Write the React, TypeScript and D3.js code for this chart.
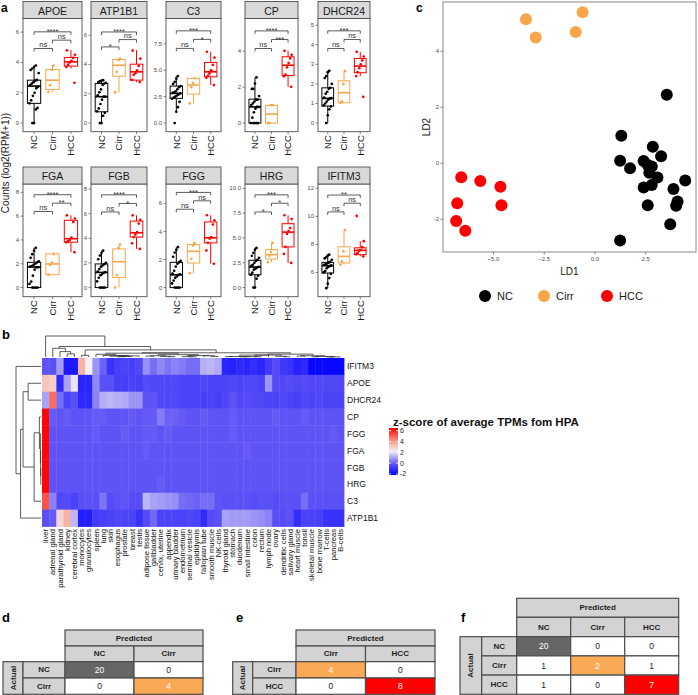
import React from 'react';
import * as d3 from 'd3';

const FONT = '"Liberation Sans", Arial, Helvetica, sans-serif';

// ---------------- Panel a data ----------------
const GENES = ['APOE', 'ATP1B1', 'C3', 'CP', 'DHCR24', 'FGA', 'FGB', 'FGG', 'HRG', 'IFITM3'];
const GROUPS = ['NC', 'Cirr', 'HCC'];
const GROUP_COLORS = ['#000000', '#F9A54A', '#FF0000'];

const Y_TICKS = [[0, 2, 4, 6], [0, 2, 4, 6], [0, 2.5, 5, 7.5], [0, 2, 4], [0, 1, 2, 3, 4, 5], [0, 2, 4, 6, 8], [0, 2, 4, 6, 8], [0, 2, 4, 6], [0, 2.5, 5, 7.5, 10], [6, 8, 10, 12]];
const Y_DOMAINS = [[-0.57, 6.9], [-0.59, 7.14], [-0.82, 9.9], [-0.48, 5.82], [-0.44, 5.34], [-0.77, 8.7], [-0.74, 8.41], [-0.65, 7.39], [-0.92, 10.44], [4.27, 12.31]];

// [lower whisker, q1, median, q3, upper whisker]
const NC_BOX = [[0, 1.3, 2.44, 2.83, 3.82], [0, 0.77, 1.8, 2.7, 2.93], [1.07, 2.34, 2.81, 3.5, 4.45], [0, 0, 0.9, 1.33, 2.54], [0, 0.87, 1.26, 1.8, 2.67], [0, 0, 1.73, 2.12, 3.34], [0, 0, 1.23, 1.92, 3.0], [0, 0, 0.91, 1.8, 2.88], [0, 1.29, 2.07, 2.75, 4.0], [4.88, 5.96, 6.48, 6.72, 7.27]];
const CIRR_BOX = [[2.06, 2.22, 2.83, 3.54, 3.8], [2.09, 3.2, 3.95, 4.34, 4.4], [1.86, 2.74, 3.6, 4.23, 4.23], [0, 0, 0.5, 0.98, 1.0], [1.04, 1.04, 1.55, 2.16, 2.65], [1.08, 1.08, 1.98, 2.83, 2.83], [0, 0.82, 2.1, 3.14, 3.5], [1.03, 1.75, 2.59, 3.07, 3.2], [2.54, 2.88, 3.32, 3.83, 4.5], [6.55, 6.68, 7.15, 7.83, 9.02]];
const HCC_BOX = [[3.6, 3.76, 4.04, 4.33, 4.81], [2.8, 2.93, 3.5, 4.02, 4.98], [3.6, 4.38, 4.85, 5.74, 6.75], [2.02, 2.65, 3.22, 3.69, 4.02], [2.4, 2.57, 2.91, 3.3, 3.64], [2.97, 3.81, 4.1, 5.65, 6.07], [3.14, 4.1, 4.45, 5.4, 5.87], [1.7, 3.19, 3.55, 4.68, 5.16], [2.48, 4.1, 5.59, 6.44, 7.29], [7.15, 7.27, 7.58, 7.76, 8.23]];

const NC_PTS = [
  [0, 0, 0.9, 1.0, 1.3, 1.5, 1.8, 2.0, 2.3, 2.4, 2.5, 2.6, 2.7, 2.8, 2.85, 3.3, 3.5, 3.6, 3.7, 3.8],
  [0, 0, 0.5, 0.7, 0.8, 1.0, 1.3, 1.6, 1.8, 1.8, 1.9, 2.1, 2.3, 2.6, 2.7, 2.75, 2.8, 2.85, 2.9, 2.93],
  [0, 1.07, 1.5, 2.0, 2.3, 2.4, 2.5, 2.6, 2.7, 2.8, 2.85, 2.9, 3.0, 3.2, 3.4, 3.5, 3.7, 3.9, 4.2, 4.45],
  [0, 0, 0, 0, 0, 0.3, 0.6, 0.8, 0.9, 0.9, 1.0, 1.1, 1.2, 1.3, 1.3, 1.5, 1.9, 1.9, 2.2, 2.54],
  [0, 0.4, 0.7, 0.85, 0.9, 1.0, 1.1, 1.2, 1.25, 1.27, 1.3, 1.5, 1.6, 1.75, 1.8, 2.0, 2.3, 2.4, 2.6, 2.67],
  [0, 0, 0, 0, 0.3, 0.5, 1.0, 1.5, 1.7, 1.7, 1.75, 1.8, 1.9, 2.0, 2.1, 2.2, 2.5, 2.8, 3.1, 3.34],
  [0, 0, 0, 0, 0.5, 0.8, 1.0, 1.1, 1.2, 1.25, 1.3, 1.5, 1.7, 1.8, 1.9, 2.0, 2.3, 2.6, 2.8, 3.0],
  [0, 0, 0, 0, 0.3, 0.5, 0.7, 0.8, 0.9, 0.95, 1.0, 1.2, 1.5, 1.7, 1.8, 1.9, 2.2, 2.5, 2.7, 2.88],
  [0, 0, 0.9, 1.2, 1.3, 1.5, 1.8, 1.9, 2.0, 2.1, 2.2, 2.3, 2.5, 2.7, 2.8, 3.0, 3.2, 3.5, 3.8, 4.0],
  [4.88, 5.2, 5.6, 5.9, 6.0, 6.1, 6.3, 6.4, 6.45, 6.5, 6.55, 6.6, 6.65, 6.7, 6.75, 6.9, 7.0, 7.1, 7.2, 7.27],
];
const CIRR_PTS = [
  [2.06, 2.5, 3.5, 3.8], [2.1, 3.5, 4.3, 4.4], [1.86, 3.4, 3.8, 4.23], [0, 0, 1.0, 1.0], [1.04, 1.1, 2.0, 2.65],
  [1.08, 1.9, 2.1, 2.83], [0, 1.0, 3.2, 3.5], [1.03, 2.05, 3.0, 3.2], [2.54, 3.2, 3.6, 4.5], [6.55, 6.8, 7.5, 9.02],
];
const HCC_PTS = [
  [2.66, 3.7, 3.85, 4.0, 4.1, 4.3, 4.5, 4.8], [2.8, 2.95, 3.3, 3.4, 3.6, 3.9, 4.4, 4.95], [3.6, 4.3, 4.5, 4.7, 5.0, 5.5, 6.2, 6.75],
  [2.02, 2.6, 2.7, 3.1, 3.35, 3.6, 3.8, 4.02], [1.34, 2.4, 2.6, 2.8, 3.0, 3.2, 3.4, 3.64], [2.97, 3.8, 3.9, 4.0, 4.2, 5.5, 5.8, 6.07],
  [3.14, 3.6, 4.1, 4.3, 4.5, 5.2, 5.5, 5.87], [1.7, 2.65, 3.2, 3.5, 3.6, 4.5, 4.8, 5.16], [2.48, 3.4, 4.1, 5.4, 5.7, 6.0, 6.9, 7.29],
  [7.15, 7.3, 7.4, 7.55, 7.6, 7.8, 8.23, 10.03],
];

// significance brackets: [NC-Cirr, Cirr-HCC, NC-HCC]
const BRACKET_Y = [[4.92, 5.47, 6.02], [5.2, 5.7, 6.22], [7.07, 7.92, 8.73], [4.15, 4.65, 5.13], [3.81, 4.27, 4.71], [6.39, 7.09, 7.8], [6.14, 6.83, 7.53], [5.59, 6.19, 6.79], [7.62, 8.5, 9.35], [10.32, 10.94, 11.52]];
const BRACKET_LABELS = [['ns', 'ns', '****'], ['*', 'ns', '****'], ['ns', '*', '***'], ['ns', '***', '****'], ['ns', 'ns', '***'], ['ns', '**', '****'], ['ns', '*', '****'], ['ns', 'ns', '***'], ['*', '*', '***'], ['ns', 'ns', '**']];
const BRACKET_PAIRS = [[0, 1], [1, 2], [0, 2]];

// ---------------- Panel b data ----------------
const HM_ROWS = ['IFITM3', 'APOE', 'DHCR24', 'CP', 'FGG', 'FGA', 'FGB', 'HRG', 'C3', 'ATP1B1'];
const TISSUES = ['liver', 'adrenal gland', 'parathyroid gland', 'kidney', 'cerebral cortex', 'monocytes', 'granulocytes', 'spleen', 'lung', 'skin', 'esophagus', 'prostate', 'breast', 'testis', 'adipose tissue', 'gallbladder', 'cervix, uterine', 'appendix', 'urinary bladder', 'endometrium', 'seminal vesicle', 'epididymis', 'fallopian tube', 'smooth muscle', 'NK-cells', 'thyroid gland', 'stomach', 'duodenum', 'small intestine', 'colon', 'rectum', 'lymph node', 'ovary', 'dendritic cells', 'salivary gland', 'heart muscle', 'tonsil', 'skeletal muscle', 'bone marrow', 'T-cells', 'pancreas', 'B-cells'];
const HM_IFITM3 = [-0.2, -0.3, 0.9, -1.6, -1.6, 3.6, 2.2, 0.8, 0.0, -1.0, -0.7, -0.6, -0.7, -0.5, 0.7, 0.2, 0.6, 0.3, 0.5, 0.4, 0.2, 0.2, 1.2, 1.3, 1.1, -1.3, -1.4, -1.2, -1.3, -1.1, -1.3, -0.8, -0.4, -0.9, -1.0, -1.4, -1.2, -2.0, -2.0, -2.0, -2.0, -2.0];
const HM_APOE = [3.2, 3.0, -1.2, 1.0, 2.0, -1.3, -1.3, 0.6, -0.3, -0.3, -0.7, -0.7, -0.6, -0.7, -0.4, -0.5, -0.5, -0.5, -0.5, -0.6, -0.6, -0.6, -0.5, -0.6, -0.6, -0.6, -0.5, -0.6, -0.5, -0.5, -0.6, 0.8, -0.4, -0.5, -0.4, -0.5, -0.4, -0.5, -0.5, -0.5, -0.5, -0.5];
const HM_DHCR24 = [1.0, 4.8, 0.2, -0.6, -0.3, -1.2, -1.2, 0.5, 1.2, 1.3, 1.2, 1.1, 0.8, 0.8, -0.2, -0.2, -0.5, -0.5, -0.5, -0.6, -0.6, -0.6, -0.7, -0.6, -0.7, -0.5, -0.3, -0.5, -0.4, -0.5, -0.5, -0.6, -0.6, -0.5, -0.6, -0.7, -0.5, -0.6, -0.5, -0.6, -0.6, -0.6];
const HM_CP = [6.4, -0.1, -0.2, -0.1, -0.2, -0.2, -0.2, -0.1, -0.1, -0.2, -0.2, -0.2, -0.1, -0.2, -0.1, -0.1, 0.4, 0.0, 0.0, -0.1, -0.2, -0.2, -0.1, -0.2, -0.2, -0.2, -0.1, -0.2, -0.2, -0.2, -0.2, -0.2, -0.1, -0.2, -0.2, -0.2, -0.1, -0.2, -0.2, -0.2, -0.2, -0.2];
const HM_FGG = [6.4, -0.2, -0.2, -0.2, -0.2, -0.2, -0.2, -0.1, -0.2, -0.2, -0.2, -0.1, -0.2, -0.2, -0.1, -0.1, -0.2, -0.1, -0.2, -0.2, -0.2, -0.2, -0.2, -0.2, -0.2, -0.2, -0.1, -0.2, -0.2, -0.2, -0.2, -0.2, -0.2, -0.2, -0.2, -0.2, -0.2, -0.2, -0.2, -0.2, -0.1, -0.2];
const HM_FGA = [6.4, -0.2, -0.2, -0.2, -0.2, -0.2, -0.2, -0.2, -0.2, -0.2, -0.2, -0.2, -0.2, -0.2, -0.1, -0.2, -0.2, -0.2, -0.2, -0.2, -0.2, -0.2, -0.2, -0.2, -0.2, -0.2, -0.2, -0.2, -0.1, -0.2, -0.2, -0.2, -0.2, -0.2, -0.2, -0.2, -0.2, -0.2, -0.2, -0.2, -0.2, -0.2];
const HM_FGB = [6.4, -0.2, -0.2, -0.2, -0.2, -0.2, -0.2, -0.2, -0.2, -0.2, -0.2, -0.2, -0.2, -0.2, -0.2, -0.2, -0.2, -0.2, -0.2, -0.2, -0.2, -0.2, -0.2, -0.2, -0.2, -0.2, -0.2, -0.2, -0.2, -0.2, -0.2, -0.2, -0.2, -0.2, -0.2, -0.2, -0.2, -0.2, -0.2, -0.2, -0.2, -0.2];
const HM_HRG = [6.4, -0.2, -0.2, -0.2, -0.2, -0.2, -0.2, -0.2, -0.2, -0.2, -0.2, -0.2, -0.2, -0.2, -0.2, -0.2, -0.1, -0.2, -0.2, -0.2, -0.2, -0.2, -0.2, -0.2, -0.2, -0.2, -0.2, -0.2, -0.2, -0.2, -0.2, -0.2, -0.2, -0.2, -0.2, -0.2, -0.2, -0.2, -0.2, -0.2, -0.2, -0.2];
const HM_C3 = [5.2, 0.5, -0.5, -0.4, -0.6, -0.3, -0.3, -0.3, 0.3, -0.4, -0.3, -0.2, -0.4, -0.4, 1.3, 1.0, 0.9, 0.8, 0.7, 0.2, 0.1, 0.0, 0.2, 0.2, -0.2, -0.3, -0.3, -0.3, -0.3, -0.4, -0.3, -0.3, -0.4, -0.3, -0.3, -0.3, 0.2, -0.3, -0.3, -0.3, -0.3, -0.3];
const HM_ATP1B1 = [-0.3, -0.1, 2.8, 3.6, 1.3, -1.5, -1.5, -0.8, -0.7, -0.6, -0.5, -0.6, -0.6, -1.0, -0.4, 0.1, -0.6, -0.6, -0.6, -0.6, -0.5, -0.6, -1.2, -0.4, -0.3, 1.0, 0.9, 0.9, 0.9, 0.8, 0.7, 0.5, -0.3, -0.4, -0.3, -1.1, -0.6, -0.6, -0.7, -1.0, -1.0, -1.0];
const HM_LEGEND_TICKS = [6, 4, 2, 0, -2];

// ---------------- Panel c data ----------------
const LD_NC_X = [3.54, 1.30, 2.85, 3.26, 1.24, 2.40, 1.73, 2.60, 2.80, 2.68, 3.08, 2.80, 2.40, 4.45, 3.87, 4.07, 4.00, 2.60, 3.71, 1.24];
const LD_NC_Y = [2.45, 0.98, 0.59, 0.25, 0.09, 0.08, -0.18, -0.06, -0.12, -0.34, -0.51, -0.78, -0.87, -0.62, -0.92, -1.37, -1.52, -1.50, -2.18, -2.76];
const LD_CIRR_X = [-3.40, -0.61, -2.92, -0.95];
const LD_CIRR_Y = [5.14, 5.39, 4.49, 4.69];
const LD_HCC_X = [-6.59, -5.65, -4.66, -6.79, -4.61, -6.84, -6.39];
const LD_HCC_Y = [-0.50, -0.63, -0.84, -1.43, -1.50, -2.06, -2.41];
const LD_X_TICKS = [-5, -2.5, 0, 2.5];
const LD_Y_TICKS = [-2, 0, 2, 4];

// ---------------- Panels d/e/f data ----------------
const CM_D_LABELS = ['NC', 'Cirr'];
const CM_D = [[20, 0], [0, 4]];
const CM_E_LABELS = ['Cirr', 'HCC'];
const CM_E = [[4, 0], [0, 8]];
const CM_F_LABELS = ['NC', 'Cirr', 'HCC'];
const CM_F = [[20, 0, 0], [1, 2, 1], [1, 0, 7]];
const CM_DIAG_COLORS: Record<string, string> = { NC: '#666666', Cirr: '#FAA954', HCC: '#FF0000' };

// ---------------- layout ----------------
const FACET_COL_X = [23, 91, 166, 245, 318];
const FACET_COL_W = [59, 56, 55, 53, 52];
const FACET_ROW_TOP = [1.5, 167];
const FACET_ROW_BOTTOM = [131.7, 296.7];
const STRIP_H = 17;

function Facet({ gi }: { gi: number }) {
  const r = Math.floor(gi / 5), c = gi % 5;
  const x0 = FACET_COL_X[c], w = FACET_COL_W[c];
  const top = FACET_ROW_TOP[r], bottom = FACET_ROW_BOTTOM[r];
  const pTop = top + STRIP_H;
  const y = d3.scaleLinear().domain(Y_DOMAINS[gi]).range([bottom, pTop]);
  const x = d3.scalePoint<string>().domain(GROUPS).range([x0, x0 + w]).padding(0.6);
  const step = x.step();
  const bw = step * 0.72;
  const boxes = [NC_BOX[gi], CIRR_BOX[gi], HCC_BOX[gi]];
  const pts = [NC_PTS[gi], CIRR_PTS[gi], HCC_PTS[gi]];
  const ticks = Y_TICKS[gi];
  const dec = ticks.some(t => !Number.isInteger(t));
  const fmt = dec ? d3.format('.1f') : d3.format('d');
  const jitter = (i: number, g: number) => ((((i * 37 + g * 13 + 5) % 17) / 16) - 0.5) * step * 0.5;
  return (
    <g>
      <rect x={x0} y={pTop} width={w} height={bottom - pTop} fill="#fff" stroke="#4d4d4d" strokeWidth={0.9} />
      <rect x={x0} y={top} width={w} height={STRIP_H} fill="#D9D9D9" stroke="#4d4d4d" strokeWidth={0.9} />
      <text x={x0 + w / 2} y={top + STRIP_H / 2 + 0.5} textAnchor="middle" dominantBaseline="central" fontSize={10.5} fill="#1a1a1a">{GENES[gi]}</text>
      {ticks.map(t => (
        <g key={t}>
          <line x1={x0 - 2.5} x2={x0} y1={y(t)} y2={y(t)} stroke="#555" strokeWidth={0.7} />
          <text x={x0 - 4} y={y(t)} textAnchor="end" dominantBaseline="central" fontSize={6} fill="#4d4d4d">{fmt(t)}</text>
        </g>
      ))}
      {GROUPS.map((g, k) => {
        const cx = x(g)!;
        const [lo, q1, med, q3, hi] = boxes[k];
        const col = GROUP_COLORS[k];
        return (
          <g key={g}>
            <line x1={cx} x2={cx} y1={y(hi)} y2={y(q3)} stroke={col} strokeWidth={1} />
            <line x1={cx} x2={cx} y1={y(q1)} y2={y(lo)} stroke={col} strokeWidth={1} />
            <rect x={cx - bw / 2} y={y(q3)} width={bw} height={Math.max(0.01, y(q1) - y(q3))} fill="#fff" stroke={col} strokeWidth={1} />
            <line x1={cx - bw / 2} x2={cx + bw / 2} y1={y(med)} y2={y(med)} stroke={col} strokeWidth={1.6} />
            {pts[k].map((v, i) => (
              <circle key={i} cx={cx + jitter(i, k)} cy={y(v)} r={1.35} fill={col} />
            ))}
            <line x1={cx} x2={cx} y1={bottom} y2={bottom + 2.5} stroke="#555" strokeWidth={0.7} />
            <text transform={`translate(${cx},${bottom + 3.5}) rotate(-90)`} textAnchor="end" dy="0.35em" fontSize={9.5} fill="#1a1a1a">{g}</text>
          </g>
        );
      })}
      {BRACKET_PAIRS.map(([a, b], k) => {
        const yy = y(BRACKET_Y[gi][k]);
        const xa = x(GROUPS[a])!, xb = x(GROUPS[b])!;
        const lab = BRACKET_LABELS[gi][k];
        return (
          <g key={k}>
            <path d={`M${xa},${yy + 3}V${yy}H${xb}V${yy + 3}`} fill="none" stroke="#333" strokeWidth={0.8} />
            <text x={(xa + xb) / 2} y={yy - (lab === 'ns' ? 1.2 : -2.2)} textAnchor="middle" fontSize={lab === 'ns' ? 7.5 : 7.5} fill="#333">{lab}</text>
          </g>
        );
      })}
    </g>
  );
}

// ordered (adjacency-constrained) complete-linkage clustering for dendrograms
interface DNode { pos: number; h: number; members: number[]; left?: DNode; right?: DNode; }
function orderedCluster(vecs: number[][]): DNode {
  const dist = (a: number[], b: number[]) => Math.sqrt(d3.sum(a, (v, k) => (v - b[k]) ** 2));
  let nodes: DNode[] = vecs.map((_, i) => ({ pos: i, h: 0, members: [i] }));
  while (nodes.length > 1) {
    let best = 0, bestD = Infinity;
    for (let i = 0; i < nodes.length - 1; i++) {
      let s = 0;
      for (const a of nodes[i].members) for (const b of nodes[i + 1].members) s = Math.max(s, dist(vecs[a], vecs[b]));
      if (s < bestD) { bestD = s; best = i; }
    }
    const A = nodes[best], B = nodes[best + 1];
    const m: DNode = { pos: (A.pos + B.pos) / 2, h: Math.max(bestD, A.h, B.h), members: [...A.members, ...B.members], left: A, right: B };
    nodes.splice(best, 2, m);
  }
  return nodes[0];
}
function dendroSegments(root: DNode): any[] {
  const segs: any[] = [];
  const walk = (n: DNode) => {
    if (!n.left || !n.right) return;
    segs.push({ p: n.left.pos, q: n.right.pos, h0: n.h, h1: n.h, kind: 'h' });
    segs.push({ p: n.left.pos, h0: n.left.h, h1: n.h, kind: 'v' });
    segs.push({ p: n.right.pos, h0: n.right.h, h1: n.h, kind: 'v' });
    walk(n.left); walk(n.right);
  };
  walk(root);
  return segs;
}

function Heatmap() {
  const rows = [HM_IFITM3, HM_APOE, HM_DHCR24, HM_CP, HM_FGG, HM_FGA, HM_FGB, HM_HRG, HM_C3, HM_ATP1B1];
  const X0 = 42, X1 = 344, Y0 = 358, Y1 = 526.5;
  const x = d3.scaleBand<number>().domain(d3.range(TISSUES.length)).range([X0, X1]);
  const y = d3.scaleBand<number>().domain(d3.range(HM_ROWS.length)).range([Y0, Y1]);
  const color = d3.scaleLinear<string>().domain([-2.2, -0.2, 2.2, 4.0, 6.5]).range(['#0000FF', '#5E54F6', '#F4F0F6', '#F8A08C', '#FF0000']).clamp(true);
  const colVecs = TISSUES.map((_, j) => rows.map(r => r[j]));
  const colRoot = orderedCluster(colVecs);
  const rowRoot = orderedCluster(rows);
  const colH = d3.scaleLinear().domain([0, colRoot.h]).range([357, 336]);
  const rowH = d3.scaleLinear().domain([0, rowRoot.h]).range([41, 16]);
  const cx = (p: number) => X0 + x.bandwidth() * (p + 0.5);
  const ry = (p: number) => Y0 + y.bandwidth() * (p + 0.5);
  const legY = d3.scaleLinear().domain([-2.2, 6.5]).range([475, 428]);
  const stops = d3.range(0, 1.0001, 0.05);
  return (
    <g>
      <defs>
        <linearGradient id="hmgrad" x1="0" y1="1" x2="0" y2="0">
          {stops.map(s => <stop key={s} offset={s} stopColor={color(-2.2 + s * 8.7)} />)}
        </linearGradient>
      </defs>
      {rows.map((r, i) => r.map((v, j) => (
        <rect key={`${i}-${j}`} x={x(j)!} y={y(i)!} width={x.bandwidth() + 0.4} height={y.bandwidth() + 0.4} fill={color(v)} />
      )))}
      {dendroSegments(colRoot).map((s: any, k) => s.kind === 'h'
        ? <line key={k} x1={cx(s.p)} x2={cx(s.q)} y1={colH(s.h0)} y2={colH(s.h0)} stroke="#333" strokeWidth={0.8} />
        : <line key={k} x1={cx(s.p)} x2={cx(s.p)} y1={colH(s.h0)} y2={colH(s.h1)} stroke="#333" strokeWidth={0.8} />)}
      {dendroSegments(rowRoot).map((s: any, k) => s.kind === 'h'
        ? <line key={k} y1={ry(s.p)} y2={ry(s.q)} x1={rowH(s.h0)} x2={rowH(s.h0)} stroke="#333" strokeWidth={0.8} />
        : <line key={k} y1={ry(s.p)} y2={ry(s.p)} x1={rowH(s.h0)} x2={rowH(s.h1)} stroke="#333" strokeWidth={0.8} />)}
      {HM_ROWS.map((g, i) => (
        <text key={g} x={X1 + 3} y={ry(i)} dominantBaseline="central" fontSize={8.5} fill="#111">{g}</text>
      ))}
      {TISSUES.map((t, j) => (
        <text key={t} transform={`translate(${cx(j)},${Y1 + 2.5}) rotate(-90)`} textAnchor="end" dy="0.35em" fontSize={7.6} fill="#111">{t}</text>
      ))}
      <text x={393} y={426} fontSize={11.5} fontWeight="bold" fill="#111">z-score of average TPMs fom HPA</text>
      <rect x={389} y={428} width={9} height={47} fill="url(#hmgrad)" />
      {HM_LEGEND_TICKS.map(t => (
        <g key={t}>
          <line x1={389} x2={391} y1={legY(t)} y2={legY(t)} stroke="#fff" strokeWidth={0.8} />
          <line x1={396} x2={398} y1={legY(t)} y2={legY(t)} stroke="#fff" strokeWidth={0.8} />
          <text x={400} y={legY(t)} dominantBaseline="central" fontSize={7} fill="#222">{t}</text>
        </g>
      ))}
    </g>
  );
}

function LdaPlot() {
  const L = 443, R = 696, T = 2, B = 252;
  const x = d3.scaleLinear().domain([-7.49, 4.98]).range([L, R]);
  const y = d3.scaleLinear().domain([-3.17, 5.76]).range([B, T]);
  const sets = [[LD_NC_X, LD_NC_Y], [LD_CIRR_X, LD_CIRR_Y], [LD_HCC_X, LD_HCC_Y]];
  const legendX = [485, 544, 607];
  return (
    <g>
      <rect x={L} y={T} width={R - L} height={B - T} fill="#fff" stroke="#888" strokeWidth={1} />
      {LD_X_TICKS.map(t => (
        <g key={t}>
          <line x1={x(t)} x2={x(t)} y1={B} y2={B + 2.5} stroke="#555" strokeWidth={0.7} />
          <text x={x(t)} y={B + 9} textAnchor="middle" fontSize={6} fill="#4d4d4d">{d3.format('.1f')(t)}</text>
        </g>
      ))}
      {LD_Y_TICKS.map(t => (
        <g key={t}>
          <line x1={L - 2.5} x2={L} y1={y(t)} y2={y(t)} stroke="#555" strokeWidth={0.7} />
          <text x={L - 4} y={y(t)} textAnchor="end" dominantBaseline="central" fontSize={6} fill="#4d4d4d">{t}</text>
        </g>
      ))}
      <text x={(L + R) / 2} y={275} textAnchor="middle" fontSize={10} fill="#1a1a1a">LD1</text>
      <text transform={`translate(430,${(T + B) / 2}) rotate(-90)`} textAnchor="middle" fontSize={10} fill="#1a1a1a">LD2</text>
      {sets.map(([xs, ys], k) => xs.map((v, i) => (
        <circle key={`${k}-${i}`} cx={x(v)} cy={y(ys[i])} r={6} fill={GROUP_COLORS[k]} />
      )))}
      {GROUPS.map((g, k) => (
        <g key={g}>
          <circle cx={legendX[k]} cy={296} r={6} fill={GROUP_COLORS[k]} />
          <text x={legendX[k] + 12} y={296} dominantBaseline="central" fontSize={11} fill="#1a1a1a">{g}</text>
        </g>
      ))}
    </g>
  );
}

interface TableProps { x: number; actualW: number; labelW: number; cellW: number; top: number; predH: number; headH: number; rowH: number; labels: string[]; m: number[][]; fs: number; }
function ConfTable({ x, actualW, labelW, cellW, top, predH, headH, rowH, labels, m, fs }: TableProps) {
  const cx0 = x + actualW + labelW;
  const n = labels.length;
  const rowsTop = top + predH + headH;
  const stroke = '#4d4d4d';
  const sw = 1.2;
  const grey = '#D3D3D3';
  return (
    <g fontFamily={FONT}>
      <rect x={cx0} y={top} width={cellW * n} height={predH} fill={grey} stroke={stroke} strokeWidth={sw} />
      <text x={cx0 + cellW * n / 2} y={top + predH / 2} textAnchor="middle" dominantBaseline="central" fontSize={fs} fontWeight="bold" fill="#222">Predicted</text>
      {labels.map((l, j) => (
        <g key={`h${j}`}>
          <rect x={cx0 + cellW * j} y={top + predH} width={cellW} height={headH} fill={grey} stroke={stroke} strokeWidth={sw} />
          <text x={cx0 + cellW * (j + 0.5)} y={top + predH + headH / 2} textAnchor="middle" dominantBaseline="central" fontSize={fs} fontWeight="bold" fill="#222">{l}</text>
        </g>
      ))}
      <rect x={x} y={rowsTop} width={actualW} height={rowH * n} fill={grey} stroke={stroke} strokeWidth={sw} />
      <text transform={`translate(${x + actualW / 2},${rowsTop + rowH * n / 2}) rotate(-90)`} textAnchor="middle" dominantBaseline="central" fontSize={fs} fontWeight="bold" fill="#222">Actual</text>
      {labels.map((l, i) => (
        <g key={`r${i}`}>
          <rect x={x + actualW} y={rowsTop + rowH * i} width={labelW} height={rowH} fill={grey} stroke={stroke} strokeWidth={sw} />
          <text x={x + actualW + labelW / 2} y={rowsTop + rowH * (i + 0.5)} textAnchor="middle" dominantBaseline="central" fontSize={fs} fontWeight="bold" fill="#222">{l}</text>
          {m[i].map((v, j) => {
            const diag = i === j;
            return (
              <g key={j}>
                <rect x={cx0 + cellW * j} y={rowsTop + rowH * i} width={cellW} height={rowH} fill={diag ? CM_DIAG_COLORS[l] : '#fff'} stroke={stroke} strokeWidth={sw} />
                <text x={cx0 + cellW * (j + 0.5)} y={rowsTop + rowH * (i + 0.5)} textAnchor="middle" dominantBaseline="central" fontSize={fs + 0.5} fill={diag ? '#fff' : '#222'}>{v}</text>
              </g>
            );
          })}
        </g>
      ))}
    </g>
  );
}

export default function App() {
  return (
    <svg width={698} height={695} viewBox="0 0 698 695" style={{ position: 'absolute', left: 0, top: 0, fontFamily: FONT }}>
      <rect width={698} height={695} fill="#fff" />
      {GENES.map((_, gi) => <Facet key={gi} gi={gi} />)}
      <text transform="translate(9,163) rotate(-90)" textAnchor="middle" fontSize={10} fill="#1a1a1a">Counts (log2(RPM+1))</text>
      <text x={1} y={12} fontSize={12} fontWeight="bold">a</text>
      <text x={416} y={12} fontSize={12} fontWeight="bold">c</text>
      <text x={2} y={339} fontSize={13} fontWeight="bold">b</text>
      <text x={2} y={622} fontSize={13} fontWeight="bold">d</text>
      <text x={236} y={622} fontSize={13} fontWeight="bold">e</text>
      <text x={461} y={622} fontSize={13} fontWeight="bold">f</text>
      <LdaPlot />
      <Heatmap />
      <ConfTable x={3} actualW={20} labelW={42} cellW={69} top={630} predH={16} headH={15.7} rowH={16.3} labels={CM_D_LABELS} m={CM_D} fs={8} />
      <ConfTable x={232.7} actualW={20} labelW={43.3} cellW={69.5} top={630} predH={16} headH={15.7} rowH={16.3} labels={CM_E_LABELS} m={CM_E} fs={8} />
      <ConfTable x={460} actualW={21.7} labelW={35} cellW={54} top={598.3} predH={19} headH={19.4} rowH={19.2} labels={CM_F_LABELS} m={CM_F} fs={8} />
    </svg>
  );
}
